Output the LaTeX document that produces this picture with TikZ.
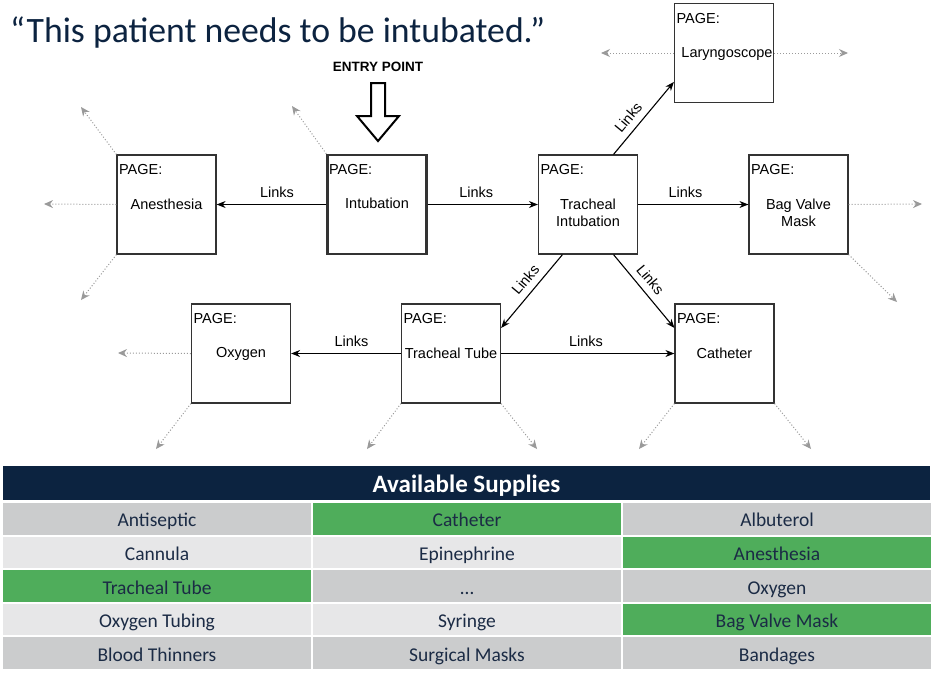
\documentclass[tikz,border=0pt]{standalone}
\usepackage{fontspec}
\setmainfont{Liberation Sans}
\newfontfamily\slidefont{Carlito}
\usetikzlibrary{arrows.meta}

\definecolor{navy}{HTML}{0C2340}
\definecolor{celltext}{HTML}{1B2B45}
\definecolor{cellgray}{HTML}{CBCCCD}
\definecolor{celllight}{HTML}{E7E7E8}
\definecolor{cellgreen}{HTML}{4FAD5B}
\definecolor{boxline}{HTML}{333333}
\definecolor{stubgray}{HTML}{9A9A9A}

\newcommand{\pagefont}{\fontsize{14.5}{17}\selectfont}

\tikzset{
  page/.style={shape=rectangle, draw=boxline, line width=1.2pt, minimum size=99, inner sep=0pt,
    label={[anchor=north west, inner sep=0pt, xshift=2.5pt, yshift=-10pt, font=\pagefont]north west:PAGE:}},
  pagename/.style={anchor=north, inner sep=0pt, yshift=-44pt, align=center, font=\pagefont},
  link/.style={-{Stealth[length=9pt,width=7pt]}, line width=1.1pt, black},
  linklabel/.style={font=\pagefont, inner sep=2.5pt, above=4pt},
  stub/.style={-{Stealth[length=9pt,width=8pt]}, dotted, line width=1pt, stubgray},
  entryarrow/.style={draw=black, line width=2pt, fill=white, line join=miter},
  cell/.style={minimum width=308, minimum height=31.6, inner sep=0pt, text=celltext,
    text height=16pt, text depth=0pt, font=\slidefont\fontsize{19.5}{22}\selectfont},
}

\begin{document}
\begin{tikzpicture}[x=1pt,y=-1pt]
  \useasboundingbox (0,0) rectangle (933,691);

  \node[anchor=base west, inner sep=0pt, text=navy, font=\slidefont\fontsize{35.7}{40}\selectfont] (title) at (10,42)
    {“This patient needs to be intubated.”};

  % pages
  \node[page, line width=2.4pt, label={[pagename]north:Intubation}] (intub) at (377,204.5) {};
  \node[page, label={[pagename]north:Anesthesia}] (anes) at (166.5,204.5) {};
  \node[page, label={[pagename]north:Tracheal\\Intubation}] (ti) at (588,204.5) {};
  \node[page, label={[pagename, xshift=3pt]north:Laryngoscope}] (lar) at (724,53) {};
  \node[page, label={[pagename]north:Bag Valve\\Mask}] (bvm) at (798.5,204.5) {};
  \node[page, label={[pagename]north:Oxygen}] (oxy) at (241,353.5) {};
  \node[page, label={[pagename]north:Tracheal Tube}] (tube) at (451,353.5) {};
  \node[page, label={[pagename]north:Catheter}] (cath) at (724.5,353.5) {};

  % entry point
  \node[font=\bfseries\fontsize{13.5}{16}\selectfont] (entry) at (378,67) {ENTRY POINT};
  \draw[entryarrow] (371,83) -- (385,83) -- (385,116) -- (399,116) -- (378,141)
    -- (357,116) -- (371,116) -- cycle;

  % links between pages
  \path[link] (intub) edge node[linklabel, pos=.45] {Links} (anes);
  \path[link] (intub) edge node[linklabel, pos=.44] {Links} (ti);
  \path[link] (ti) edge node[linklabel, pos=.43] {Links} (bvm);
  \path[link] (ti.63) edge node[linklabel, sloped, pos=.4] {Links} (lar.210);
  \path[link] (ti.243) edge node[linklabel, sloped, pos=.45] {Links} (tube.27);
  \path[link] (ti.297) edge node[linklabel, sloped, pos=.45] {Links} (cath.153);
  \path[link] (tube) edge node[linklabel, pos=.45] {Links} (oxy);
  \path[link] (tube) edge node[linklabel, pos=.49] {Links} (cath);

  % links that lead off to further pages
  \foreach \n/\a/\x/\y [count=\i] in {
      anes/north west/81/107, anes/west/44/204, anes/south west/81/300,
      intub/north west/292/106,
      lar/west/601/53, lar/east/848/53,
      bvm/east/922/204, bvm/south east/897/302,
      oxy/west/118/353, oxy/south west/156/449,
      tube/south west/367/449, tube/south east/537/449,
      cath/south west/639/449, cath/south east/811/449} {
    \coordinate (s\i) at (\x,\y);
    \draw[stub] (\n.\a) -- (s\i);
  }

  % supplies table
  \node[fill=navy, minimum width=927, minimum height=34, inner sep=0pt, text=white,
    text height=18pt, text depth=0pt,
    font=\slidefont\bfseries\fontsize{25}{28}\selectfont] (head) at (466.5,483) {Available Supplies};
  \foreach \r/\c/\col/\txt in {
      1/1/cellgray/Antiseptic, 1/2/cellgreen/Catheter, 1/3/cellgray/Albuterol,
      2/1/celllight/Cannula, 2/2/celllight/Epinephrine, 2/3/cellgreen/Anesthesia,
      3/1/cellgreen/Tracheal Tube, 3/2/cellgray/…, 3/3/cellgray/Oxygen,
      4/1/celllight/Oxygen Tubing, 4/2/celllight/Syringe, 4/3/cellgreen/Bag Valve Mask,
      5/1/cellgray/Blood Thinners, 5/2/cellgray/Surgical Masks, 5/3/cellgray/Bandages} {
    \node[cell, fill=\col] (cell-\r-\c) at ({157+310*(\c-1)},{518.8+33.6*(\r-1)}) {\txt};
  }
\end{tikzpicture}
\end{document}
